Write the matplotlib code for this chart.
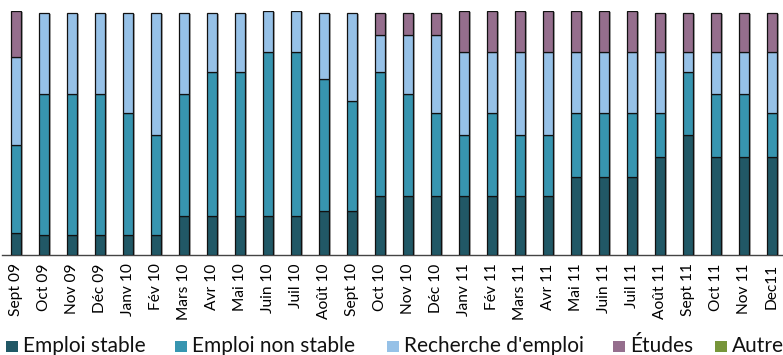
import matplotlib
matplotlib.use("Agg")
import matplotlib.pyplot as plt
from matplotlib.patches import Rectangle
import matplotlib.patheffects as pe
import numpy as np

months = ["Sept 09", "Oct 09", "Nov 09", "Déc 09", "Janv 10", "Fév 10", "Mars 10",
          "Avr 10", "Mai 10", "Juin 10", "Juil 10", "Août 10", "Sept 10", "Oct 10",
          "Nov 10", "Déc 10", "Janv 11", "Fév 11", "Mars 11", "Avr 11", "Mai 11",
          "Juin 11", "Juil 11", "Août 11", "Sept 11", "Oct 11", "Nov 11", "Dec11"]

emploi_stable = [9, 8, 8, 8, 8, 8, 16, 16, 16, 16, 16, 18, 18, 24,
                 24, 24, 24, 24, 24, 24, 32, 32, 32, 40, 49, 40, 40, 40]
emploi_non_stable = [36, 58, 58, 58, 50, 41, 50, 59, 59, 67, 67, 54, 45, 51,
                     42, 34, 25, 34, 25, 25, 26, 26, 26, 18, 26, 26, 26, 18]
recherche_emploi = [36, 33, 33, 33, 41, 50, 33, 24, 24, 17, 17, 27, 36, 15,
                    24, 32, 34, 25, 34, 34, 25, 25, 25, 25, 8, 17, 17, 25]
etudes = [19, 0, 0, 0, 0, 0, 0, 0, 0, 0, 0, 0, 0, 9,
          9, 9, 17, 17, 17, 17, 17, 17, 17, 16, 16, 16, 16, 16]
autre = [0] * 28

series = [
    ("Emploi stable", emploi_stable, "#215866"),
    ("Emploi non stable", emploi_non_stable, "#3795B0"),
    ("Recherche d'emploi", recherche_emploi, "#96C1E7"),
    ("Études", etudes, "#956E8D"),
    ("Autre", autre, "#77953A"),
]

W, H = 783, 355
fig = plt.figure(figsize=(W / 100, H / 100), dpi=100)
ax = fig.add_axes([2 / W, 100 / H, 784 / W, 244 / H])

x = np.arange(len(months))
bottom = np.zeros(len(months))
shadow = [pe.SimplePatchShadow(offset=(1.2, -0.6), shadow_rgbFace="0.45", alpha=0.6), pe.Normal()]
for name, vals, color in series:
    v = np.array(vals, dtype=float)
    bars = ax.bar(x, v, width=0.38, bottom=bottom, color=color,
                  edgecolor="#111111", linewidth=0.9, zorder=3)
    for b, val in zip(bars, v):
        if val == 0:
            b.set_visible(False)
        else:
            b.set_path_effects(shadow)
    bottom += v

ax.set_xlim(-0.5, len(months) - 0.5)
ax.set_ylim(0, 100)
ax.set_xticks(x)
ax.set_xticklabels(months, rotation=90, fontsize=11.2, family="Lato")
ax.tick_params(axis="x", length=0, pad=6)
ax.set_yticks([])
for s in ["top", "right", "left"]:
    ax.spines[s].set_visible(False)
ax.spines["bottom"].set_color("#444444")
ax.spines["bottom"].set_linewidth(1.0)

# Legend row along the bottom edge: square swatch followed by its label
legend_x = [6, 175, 387, 613, 715]   # left edge of each swatch, in pixels
swatch = 11.5
baseline = H - 351.5
for (name, _, color), lx in zip(series, legend_x):
    fig.patches.append(Rectangle((lx / W, (baseline - 0.5) / H), swatch / W, swatch / H,
                                 transform=fig.transFigure, facecolor=color,
                                 edgecolor="none"))
    fig.text((lx + swatch + 5.5) / W, baseline / H, name, family="Lato",
             fontsize=15, va="baseline", ha="left", color="#111111")

fig.savefig("out.png", dpi=100)
